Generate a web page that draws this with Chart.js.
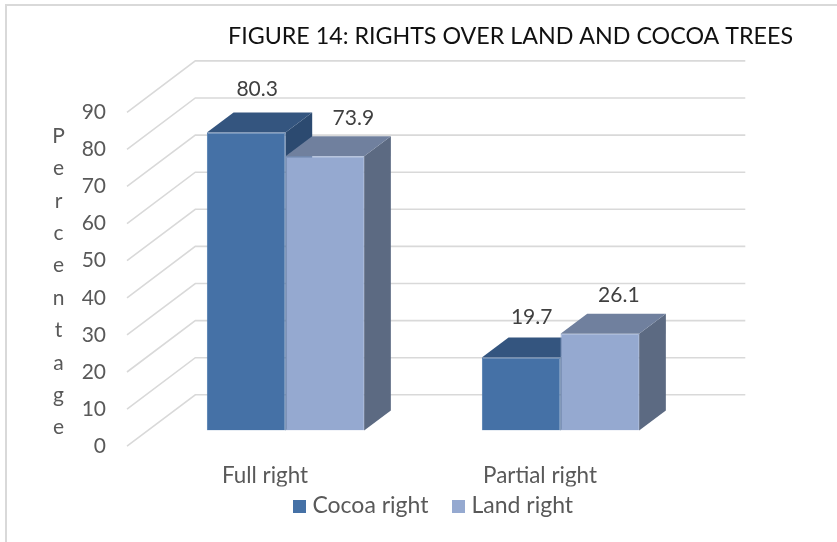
<!DOCTYPE html>
<html>
<head>
<meta charset="utf-8">
<style>
  html, body { margin: 0; padding: 0; background: #fff; }
  canvas { display: block; }
</style>
</head>
<body>
<canvas id="rightsChart" width="837" height="542"></canvas>
<script src="https://cdn.jsdelivr.net/npm/chart.js@4"></script>
<script>
const titleText = "FIGURE 14: RIGHTS OVER LAND AND COCOA TREES";
const categories = ["Full right", "Partial right"];
const cocoaRight = [80.3, 19.7];
const landRight = [73.9, 26.1];
const yTitle = "Percentage";

const fontName = "Lato, 'Open Sans', sans-serif";

// fake 3d: bar depth and how far the back wall / front edge sit from the bar plane
const barDepth = { x: 26.7, y: -20 };
const wallShift = { x: 47.3, y: -35.7 };
const frontShift = { x: -21, y: 15.7 };

const seriesColors = ["#4571a6", "#95a9d0"];
const edgeColors = ["#4f7aae", "#9cafd4"];

// colours for the faces that Chart.js itself does not draw
const faces = [
    { top: "#34557f", side: "#2c4a70" },
    { top: "#70809e", side: "#5c6a82" }
];

// nudges of the value labels from the bar's top centre, as in the picture
const labelNudge = [
    [{ x: 11, y: -43.7 }, { x: 10.5, y: -40.5 }],
    [{ x: 28.5, y: -38.4 }, { x: 19, y: -38.7 }]
];

function fillPoly(ctx, pts, color) {
    ctx.beginPath();
    pts.forEach((p, i) => i ? ctx.lineTo(p[0], p[1]) : ctx.moveTo(p[0], p[1]));
    ctx.closePath();
    ctx.fillStyle = color;
    ctx.fill();
}

// legend swatch as a small canvas, the built in box leaves too wide a gap to the text
function swatch(color) {
    const c = document.createElement("canvas");
    c.width = 13;
    c.height = 13;
    const g = c.getContext("2d");
    g.fillStyle = color;
    g.fillRect(0, 0, 13, 13);
    return c;
}

const fake3d = {
    id: "fake3d",
    afterLayout(chart) {
        // title and legend are not centred on the plot in the original
        chart.titleBlock.left = 228;
        chart.titleBlock.right = 793;
        chart.legend.left = 0;
        chart.legend.right = 871;
        chart.legend.top = chart.chartArea.bottom + 35.5;
    },
    beforeDatasetsDraw(chart) {
        const ctx = chart.ctx;
        const { x, y } = chart.scales;

        ctx.save();
        // outer chart border, only top and left show in the crop
        ctx.strokeStyle = "#d9d9d9";
        ctx.lineWidth = 2;
        ctx.beginPath();
        ctx.moveTo(6, 542);
        ctx.lineTo(6, 5);
        ctx.lineTo(837, 5);
        ctx.stroke();

        // back wall gridlines plus the slanted side wall
        ctx.lineWidth = 1.6;
        y.ticks.forEach(t => {
            const py = y.getPixelForValue(t.value);
            ctx.beginPath();
            ctx.moveTo(x.left + frontShift.x, py + frontShift.y);
            ctx.lineTo(x.left + wallShift.x, py + wallShift.y);
            ctx.lineTo(x.right + wallShift.x, py + wallShift.y);
            ctx.stroke();
        });

        // side and top of each bar, series order so the later one overlaps
        chart.data.datasets.forEach((ds, d) => {
            chart.getDatasetMeta(d).data.forEach(bar => {
                const half = bar.width / 2;
                const l = bar.x - half, r = bar.x + half;
                const dx = barDepth.x, dy = barDepth.y;
                fillPoly(ctx, [[r, bar.y], [r + dx, bar.y + dy], [r + dx, bar.base + dy], [r, bar.base]], faces[d].side);
                fillPoly(ctx, [[l, bar.y], [l + dx, bar.y + dy], [r + dx, bar.y + dy], [r, bar.y]], faces[d].top);
            });
        });
        ctx.restore();
    },
    afterDatasetsDraw(chart) {
        const ctx = chart.ctx;
        ctx.save();
        ctx.textAlign = "center";
        ctx.textBaseline = "middle";
        ctx.font = "21px " + fontName;
        ctx.fillStyle = "#404040";
        chart.data.datasets.forEach((ds, d) => {
            chart.getDatasetMeta(d).data.forEach((bar, i) => {
                const n = labelNudge[d][i];
                ctx.fillText(ds.data[i].toFixed(1), bar.x + n.x, bar.y + n.y);
            });
        });

        // stacked y axis title, one letter per row
        ctx.fillStyle = "#595959";
        ctx.font = "21px " + fontName;
        yTitle.split("").forEach((ch, i) => {
            ctx.fillText(ch, 58.5, 136 + i * 32.4);
        });
        ctx.restore();
    }
};

const ctx = document.getElementById("rightsChart").getContext("2d");
new Chart(ctx, {
    type: "bar",
    data: {
        labels: categories,
        datasets: [
            { label: "Cocoa right", data: cocoaRight, backgroundColor: seriesColors[0], borderColor: edgeColors[0], borderWidth: 1 },
            { label: "Land right", data: landRight, backgroundColor: seriesColors[1], borderColor: edgeColors[1], borderWidth: 1 }
        ]
    },
    options: {
        responsive: false,
        animation: false,
        devicePixelRatio: 1,
        layout: { padding: { left: 0, right: 139, top: 0, bottom: -6 } },
        datasets: { bar: { categoryPercentage: 0.572, barPercentage: 1 } },
        plugins: {
            tooltip: { enabled: false },
            title: {
                display: true,
                text: titleText,
                color: "#111111",
                align: "center",
                font: { family: fontName, size: 23.4, weight: "normal" },
                padding: { top: 22, bottom: 46.5 }
            },
            legend: {
                position: "bottom",
                labels: {
                    usePointStyle: true,
                    pointStyleWidth: 3,
                    padding: 28.5,
                    color: "#595959",
                    font: { family: fontName, size: 23 },
                    generateLabels(chart) {
                        const items = Chart.defaults.plugins.legend.labels.generateLabels(chart);
                        items.forEach((item, i) => { item.pointStyle = swatch(seriesColors[i]); });
                        return items;
                    }
                }
            }
        },
        scales: {
            x: {
                grid: { display: false },
                border: { display: false },
                afterFit(scale) { scale.height = 56; },
                ticks: {
                    color: "#595959",
                    padding: 24,
                    labelOffset: -20.5,
                    maxRotation: 0,
                    autoSkip: false,
                    font: { family: fontName, size: 22.4 }
                }
            },
            y: {
                min: 0,
                max: 90,
                grid: { display: false },
                border: { display: false },
                afterFit(scale) { scale.width = 148; },
                ticks: {
                    stepSize: 10,
                    color: "#595959",
                    padding: 34,
                    labelOffset: 15.7,
                    font: { family: fontName, size: 21 }
                }
            }
        }
    },
    plugins: [fake3d]
});
</script>
</body>
</html>
